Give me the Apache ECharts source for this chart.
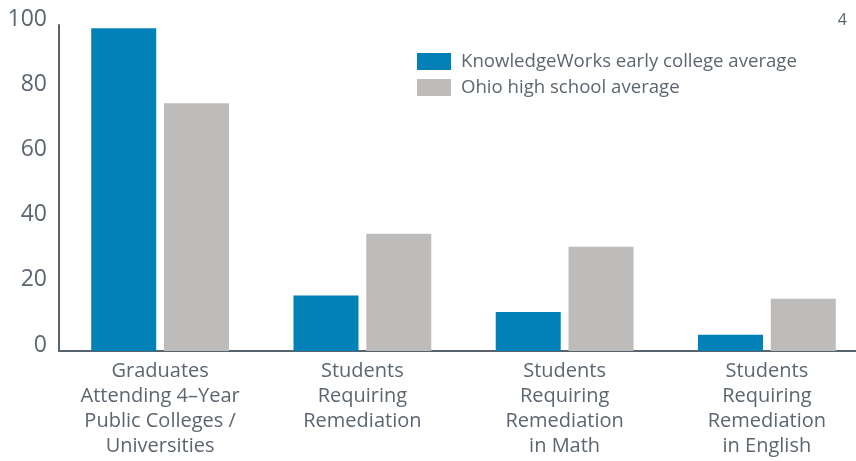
<!DOCTYPE html>
<html>
<head>
<meta charset="utf-8">
<script src="https://cdn.jsdelivr.net/npm/echarts@6/dist/echarts.min.js"></script>
<style>html,body{margin:0;padding:0;background:#fff}#c{width:856px;height:461px}</style>
</head>
<body>
<div id="c"></div>
<script>
var categories = [
  "Graduates\nAttending 4\u2013Year\nPublic Colleges /\nUniversities",
  "Students\nRequiring\nRemediation",
  "Students\nRequiring\nRemediation\nin Math",
  "Students\nRequiring\nRemediation\nin English"
];
var knowledgeWorks = [99, 17, 12, 5];
var ohioAverage = [76, 36, 32, 16];
var seriesNames = ["KnowledgeWorks early college average", "Ohio high school average"];
var yTicks = [0, 20, 40, 60, 80, 100];

var textColor = "#5c6670";
var axisColor = "#59636c";
var font = "'Open Sans', 'Noto Sans', sans-serif";

var chart = echarts.init(document.getElementById('c'));
chart.setOption({
  animation: false,
  backgroundColor: '#ffffff',
  title: {
    text: '4', right: 4, top: 7,
    textStyle: { fontFamily: font, fontSize: 16, fontWeight: 'normal', color: textColor }
  },
  legend: {
    orient: 'vertical', left: 417, top: 52, padding: 0,
    itemWidth: 34, itemHeight: 17, itemGap: 7,
    icon: 'rect',
    data: seriesNames,
    textStyle: { fontFamily: font, fontSize: 18.6, color: textColor, padding: [0, 0, 0, 5] }
  },
  grid: { left: 59, width: 809, top: 25, bottom: 110, containLabel: false, outerBoundsMode: 'none' },
  xAxis: {
    type: 'category',
    data: categories,
    axisLine: { lineStyle: { color: axisColor, width: 2 } },
    axisTick: { show: false },
    axisLabel: {
      fontFamily: font, fontSize: 20, color: textColor, lineHeight: 25,
      margin: 8, interval: 0, align: 'center'
    }
  },
  yAxis: {
    type: 'value', min: 0, max: 100, interval: 20,
    axisLine: { show: true, lineStyle: { color: axisColor, width: 2 } },
    axisTick: { show: false },
    splitLine: { show: false },
    axisLabel: {
      fontFamily: font, fontSize: 23, color: textColor, margin: 12,
      verticalAlign: 'bottom', lineHeight: 12,
      formatter: function (v) { return yTicks.indexOf(v) >= 0 ? String(v) : ''; }
    }
  },
  series: [
    { name: seriesNames[0], type: 'bar', data: knowledgeWorks, barWidth: 65, barGap: '12%',
      itemStyle: { color: '#0280b8' } },
    { name: seriesNames[1], type: 'bar', data: ohioAverage, barWidth: 65, barGap: '12%',
      itemStyle: { color: '#bdbcba' } }
  ]
});
</script>
</body>
</html>
